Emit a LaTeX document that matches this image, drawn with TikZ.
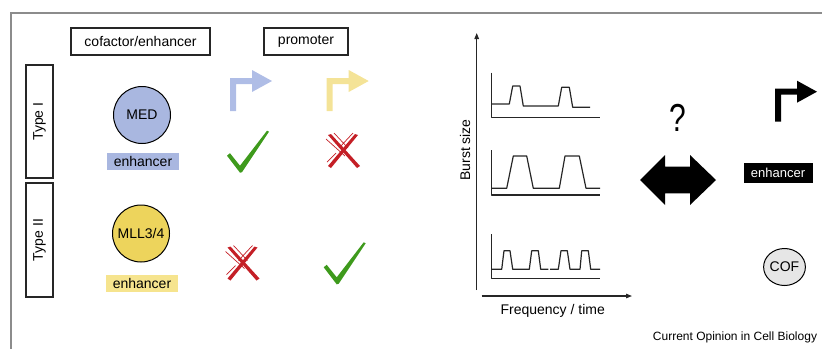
\documentclass[tikz,border=0pt]{standalone}
\usepackage{fontspec}
\setmainfont{Liberation Sans}
\usetikzlibrary{arrows.meta,shapes.geometric}
\definecolor{medblue}{HTML}{A9B7E0}
\definecolor{promblue}{HTML}{AFBDE6}
\definecolor{mllyellow}{HTML}{EDD45C}
\definecolor{enhyellow}{HTML}{F6E48E}
\definecolor{promyellow}{HTML}{F4E397}
\definecolor{tickgreen}{HTML}{3E9A1C}
\definecolor{crossred}{HTML}{C41F26}
\definecolor{cofgray}{HTML}{E6E6E6}
\definecolor{framegray}{HTML}{8C8C8C}
\tikzset{
  lbl/.style={font=\fontsize{14}{16}\selectfont, inner sep=0pt},
  hdrbox/.style={lbl, draw=black!85, line width=1.1pt, minimum height=27pt},
  typebox/.style={hdrbox, rotate=90},
  cofcirc/.style={lbl, circle, draw, line width=1pt, minimum size=57pt},
  enhbox/.style={lbl, minimum width=72pt, minimum height=17pt},
  plotline/.style={line width=1.2pt, black!85, line join=round},
  axisarrow/.style={plotline, -{Triangle[length=6pt,width=4.5pt]}},
  promarrow/.pic={\fill (0,0) -- (0,-33) -- (22,-33) -- (22,-41) -- (42,-30)
      -- (22,-19) -- (22,-27) -- (6,-27) -- (6,0) -- cycle;},
  tickmark/.pic={\fill[tickgreen] (-13,-16) -- (-10,-18.5) -- (0,-6) -- (27,-41)
      -- (29,-40) -- (2,0.5) -- (0,1) -- cycle;},
  crossmark/.pic={\fill[crossred] (-16,-16) -- (-13,-17) -- (16,15) -- (13,17) -- cycle;
      \fill[crossred] (11,-17) -- (14,-16) -- (-13,17) -- (-16,15) -- cycle;
      \draw[crossred, line width=0.7pt] (-18,-12) -- (1,5) (9,-18) -- (-5,-3)
        (-10,-18) -- (4,-3) (-17,11) -- (-8,2);}
}
\begin{document}
\begin{tikzpicture}[x=1pt,y=-1pt]
    \useasboundingbox (0,0) rectangle (822,349);
    \draw[framegray, line width=1.5pt] (822,13) -- (11,13) -- (11,349);

    % left panel
    \node[hdrbox, minimum width=139pt] (cofhdr) at (140.5,41.5) {cofactor/enhancer};
    \node[hdrbox, minimum width=84pt] (promhdr) at (306,41.5) {promoter};
    \node[typebox, minimum width=113pt] (type1) at (39.5,121.5) {Type I};
    \node[typebox, minimum width=114pt] (type2) at (39.5,240) {Type II};

    \node[cofcirc, fill=medblue] (med) at (142,115) {MED};
    \node[enhbox, fill=medblue] (enh1) at (143,161.5) {enhancer};
    \node[cofcirc, fill=mllyellow] (mll) at (141,233.5) {MLL3/4};
    \node[enhbox, fill=enhyellow] (enh2) at (142,283.5) {enhancer};

    \pic[promblue] (prom1) at (230,111) {promarrow};
    \pic[promyellow] (prom2) at (326.7,111) {promarrow};
    \pic (tick1) at (240,171.7) {tickmark};
    \pic (cross1) at (344,151) {crossmark};
    \pic (cross2) at (243.5,263.5) {crossmark};
    \pic (tick2) at (336.7,283.3) {tickmark};

    % burst plots
    \draw[axisarrow] (476.7,290) -- (476.7,33);
    \draw[axisarrow] (481.7,296) -- (632,296);
    \node[lbl, rotate=90] (burst) at (465,150) {Burst size};
    \node[lbl] (freq) at (552.7,310.5) {Frequency / time};

    \foreach \top/\base in {72.7/117.3, 150/195, 234/278.3}
        \draw[plotline] (491.7,\top) -- (491.7,\base) -- (600,\base);
    \draw[plotline] (491.7,104) -- (509.3,104) -- (512.7,86) -- (520,86)
        -- (523.3,106) -- (558.3,106) -- (561.7,87.3) -- (569.3,87.3)
        -- (572.7,107.3) -- (590,107.3);
    \draw[plotline] (491.7,188.3) -- (506.7,188.3) -- (513.3,156) -- (526.7,156)
        -- (533.3,188.3) -- (559.3,188.3) -- (565,156) -- (579.3,156)
        -- (586,188.3) -- (600,188.3);
    \draw[plotline] (491.7,269.3) -- (501.7,269.3) -- (504,250.7) -- (510,250.7)
        -- (512.7,269.3) -- (529.3,269.3) -- (531.7,250.7) -- (538.3,250.7)
        -- (540.7,269.3) -- (548.3,269.3);
    \draw[plotline] (550,269.3) -- (558.3,269.3) -- (561,250.7) -- (567.3,250.7)
        -- (570,269.3) -- (580,269.3) -- (581.7,250.7) -- (588.3,250.7)
        -- (590.7,269.3) -- (600,269.3);

    % right panel
    \node[font=\fontsize{30}{32}\selectfont, inner sep=0pt, yscale=1.3] (qmark) at (678.3,117.5) {?};
    \fill (640,180) -- (665,155) -- (665,166.7) -- (690,166.7) -- (690,155)
        -- (716,180) -- (690,205) -- (690,193.3) -- (665,193.3) -- (665,205) -- cycle;
    \pic[black] (prom3) at (775,121.7) {promarrow};
    \node[lbl, fill=black, text=white, font=\fontsize{13}{15}\selectfont,
        minimum width=69pt, minimum height=20pt] (enh3) at (778,173.3) {enhancer};
    \node[lbl, ellipse, draw, fill=cofgray, line width=1pt,
        minimum width=41pt, minimum height=37pt] (cof) at (784.5,267) {COF};

    \node[font=\fontsize{12}{14}\selectfont, inner sep=0pt] (source) at (735,337.7)
        {Current Opinion in Cell Biology};
\end{tikzpicture}
\end{document}
